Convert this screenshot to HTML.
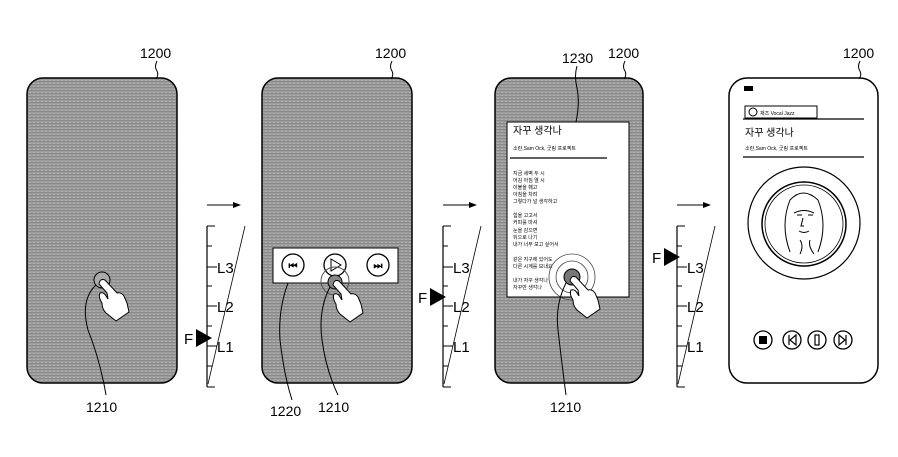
<!DOCTYPE html>
<html><head><meta charset="utf-8"><style>
html,body{margin:0;padding:0;background:#fff;}
svg{display:block;}
text{font-family:"Liberation Sans","Noto Sans CJK KR",sans-serif;fill:#000;}
</style></head><body>
<svg width="898" height="457" viewBox="0 0 898 457" xmlns="http://www.w3.org/2000/svg">
<defs>
<pattern id="tx" width="4" height="3" patternUnits="userSpaceOnUse">
<rect width="4" height="3" fill="#9c9c9c"/>
<rect y="0" width="4" height="1" fill="#8a8a8a"/>
<rect x="1" y="2" width="2" height="1" fill="#b0b0b0"/>
</pattern>
<g id="hand">
<path d="M-3,3 Q-2,-3 3,-1 L15,12 Q19,11 22,15 L25,22 L27,31 L14,40 L4,32 Q0,28 0,22 Q-4,16 -2,12 Q2,11 4,15 L6,18 L5,12 Z" fill="#fff" stroke="#000" stroke-width="1"/>
</g>
<g id="scale">
<line x1="0" y1="0" x2="0" y2="161" stroke="#000" stroke-width="1.2"/>
<line x1="0" y1="0" x2="8" y2="0" stroke="#000"/>
<line x1="0" y1="161" x2="8" y2="161" stroke="#000"/>
<line x1="0" y1="20" x2="5" y2="20" stroke="#000"/>
<line x1="0" y1="41" x2="10" y2="41" stroke="#000"/>
<line x1="0" y1="60" x2="5" y2="60" stroke="#000"/>
<line x1="0" y1="80" x2="10" y2="80" stroke="#000"/>
<line x1="0" y1="100" x2="5" y2="100" stroke="#000"/>
<line x1="0" y1="120" x2="10" y2="120" stroke="#000"/>
<line x1="0" y1="140" x2="5" y2="140" stroke="#000"/>
<line x1="1" y1="158" x2="38" y2="0" stroke="#000" stroke-width="0.8"/>
<text x="10" y="47" font-size="15">L3</text>
<text x="10" y="86" font-size="15">L2</text>
<text x="10" y="126" font-size="15">L1</text>
<line x1="0" y1="-21" x2="26" y2="-21" stroke="#000"/>
<path d="M26,-24 L34,-21 L26,-18 Z" fill="#000"/>
</g>
</defs>

<!-- Phone 1 -->
<rect x="27" y="78" width="150" height="305" rx="16" fill="url(#tx)" stroke="#000" stroke-width="1.5"/>
<text x="140" y="58" font-size="14">1200</text>
<path d="M157,61 q-3,6 0,10 q2,4 -1,8" fill="none" stroke="#000"/>
<circle cx="102" cy="280" r="8" fill="#aaa" stroke="#000"/>
<use href="#hand" x="102" y="281"/>
<path d="M96,285 Q80,300 88,330 Q100,360 106,395" fill="none" stroke="#000"/>
<text x="86" y="412" font-size="14">1210</text>
<use href="#scale" x="207" y="226"/>
<path d="M196,329 L212,338 L196,347 Z" fill="#000"/>
<text x="184" y="344" font-size="15">F</text>

<!-- Phone 2 -->
<rect x="262" y="78" width="150" height="305" rx="16" fill="url(#tx)" stroke="#000" stroke-width="1.5"/>
<text x="375" y="58" font-size="14">1200</text>
<path d="M392,61 q-3,6 0,10 q2,4 -1,8" fill="none" stroke="#000"/>
<rect x="273" y="248" width="125" height="35" fill="#fff" stroke="#000"/>
<circle cx="293" cy="265" r="11" fill="#fff" stroke="#000" stroke-width="1.3"/>
<text x="293" y="269" font-size="10" text-anchor="middle" font-weight="bold">⏮</text>
<circle cx="335" cy="265" r="11" fill="#fff" stroke="#000" stroke-width="1.3"/>
<path d="M331,259 L341,265 L331,271 Z" fill="none" stroke="#000"/>
<circle cx="378" cy="265" r="11" fill="#fff" stroke="#000" stroke-width="1.3"/>
<text x="378" y="269" font-size="10" text-anchor="middle" font-weight="bold">⏭</text>
<circle cx="335" cy="281" r="14" fill="none" stroke="#555"/>
<circle cx="335" cy="282" r="7" fill="#888" stroke="#000"/>
<use href="#hand" x="336" y="282"/>
<path d="M330,287 Q318,310 322,340 Q326,370 338,395" fill="none" stroke="#000"/>
<path d="M288,283 Q278,310 280,340 Q284,375 292,400" fill="none" stroke="#000"/>
<text x="270" y="416" font-size="14">1220</text>
<text x="318" y="412" font-size="14">1210</text>
<use href="#scale" x="443" y="226"/>
<path d="M430,288 L446,297 L430,306 Z" fill="#000"/>
<text x="418" y="303" font-size="15">F</text>

<!-- Phone 3 -->
<rect x="495" y="78" width="148" height="305" rx="16" fill="url(#tx)" stroke="#000" stroke-width="1.5"/>
<text x="608" y="58" font-size="14">1200</text>
<path d="M625,61 q-3,6 0,10 q2,4 -1,8" fill="none" stroke="#000"/>
<text x="562" y="63" font-size="14">1230</text>
<path d="M577,66 q-3,10 0,22 q3,15 -1,34" fill="none" stroke="#000"/>
<rect x="507" y="122" width="122" height="175" fill="#fff" stroke="#000"/>
<text x="513" y="134" font-size="10">자꾸 생각나</text>
<text x="513" y="150" font-size="5">소란,Sam Ock, 굿링 프로젝트</text>
<line x1="510" y1="158" x2="607" y2="158" stroke="#000" stroke-width="1.2"/>
<g font-size="5">
<text x="513" y="175">지금 세벽 두 시</text>
<text x="513" y="182">어김 아침 열 시</text>
<text x="513" y="189">이불을 훼고</text>
<text x="513" y="196">아침을 차려</text>
<text x="513" y="203">그렇다가 널 생각하고</text>
<text x="513" y="217">힘을 고고서</text>
<text x="513" y="224">커피를 마셔</text>
<text x="513" y="232">눈을 감으면</text>
<text x="513" y="239">뒤으로 나기</text>
<text x="513" y="246">내가 너무 보고 싶어서</text>
<text x="513" y="261">같은 지구에 있어도</text>
<text x="513" y="268">다른 시계를 보내요</text>
<text x="513" y="282">내가 자꾸 생각나</text>
<text x="513" y="289">자꾸만 생각나</text>
</g>
<circle cx="572" cy="277" r="23" fill="none" stroke="#444" stroke-width="0.8"/>
<circle cx="572" cy="277" r="16" fill="none" stroke="#444" stroke-width="0.8"/>
<circle cx="572" cy="277" r="8" fill="#777" stroke="#000"/>
<use href="#hand" x="573" y="278"/>
<path d="M566,283 Q555,305 558,330 Q562,365 566,395" fill="none" stroke="#000"/>
<text x="550" y="412" font-size="14">1210</text>
<use href="#scale" x="677" y="226"/>
<path d="M664,248 L680,257 L664,266 Z" fill="#000"/>
<text x="652" y="263" font-size="15">F</text>

<!-- Phone 4 -->
<rect x="729" y="78" width="149" height="305" rx="18" fill="#fff" stroke="#000" stroke-width="1.5"/>
<text x="843" y="58" font-size="14">1200</text>
<path d="M860,61 q-3,6 0,10 q2,4 -1,8" fill="none" stroke="#000"/>
<rect x="744" y="86" width="9" height="5" fill="#000"/>
<rect x="745" y="106" width="72" height="12" fill="#fff" stroke="#000"/>
<circle cx="753" cy="112" r="4" fill="none" stroke="#000"/>
<text x="760" y="115" font-size="5">재즈 Vocal Jazz</text>
<line x1="743" y1="119" x2="864" y2="119" stroke="#000" stroke-width="1.2"/>
<text x="745" y="136" font-size="10">자꾸 생각나</text>
<text x="745" y="150" font-size="5">소란,Sam Ock, 굿링 프로젝트</text>
<line x1="743" y1="157" x2="864" y2="157" stroke="#000" stroke-width="1.2"/>
<circle cx="804" cy="223" r="56" fill="none" stroke="#000" stroke-width="1.2"/>
<circle cx="804" cy="224" r="42" fill="none" stroke="#000" stroke-width="1.5"/>
<circle cx="804" cy="224" r="39" fill="none" stroke="#000" stroke-width="0.8"/>
<path d="M790,252 Q780,225 790,200 Q803,186 818,200 Q828,225 818,252 M794,213 Q804,208 814,213 M797,215 l5,0 M808,215 l5,0 M803,218 l-2,8 l3,0 M799,231 q5,3 10,0 M800,240 q4,6 0,14 M810,240 q-2,6 4,14" fill="none" stroke="#000"/>
<circle cx="763" cy="340" r="9" fill="none" stroke="#000" stroke-width="1.3"/>
<rect x="759" y="336" width="8" height="8" fill="#000"/>
<circle cx="792" cy="340" r="9" fill="none" stroke="#000" stroke-width="1.3"/>
<path d="M789,335 v10 M796,335 L790,340 L796,345 Z" fill="none" stroke="#000" stroke-width="1.2"/>
<circle cx="817" cy="340" r="9" fill="none" stroke="#000" stroke-width="1.3"/>
<rect x="815" y="335" width="4" height="10" fill="none" stroke="#000" stroke-width="1.2"/>
<circle cx="843" cy="340" r="9" fill="none" stroke="#000" stroke-width="1.3"/>
<path d="M846,335 v10 M839,335 L845,340 L839,345 Z" fill="none" stroke="#000" stroke-width="1.2"/>
</svg>
</body></html>
